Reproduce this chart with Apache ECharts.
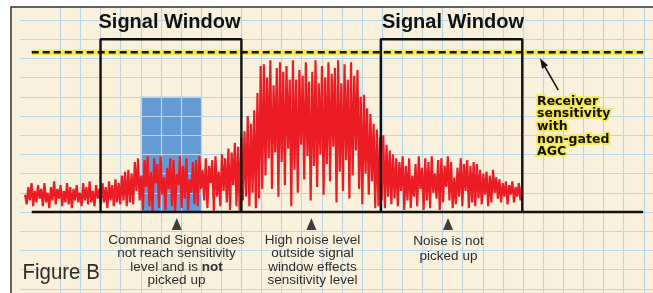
<!DOCTYPE html>
<html>
<head>
<meta charset="utf-8">
<title>Figure B</title>
<script src="https://cdn.jsdelivr.net/npm/echarts@6/dist/echarts.min.js"></script>
<style>
  html, body { margin: 0; padding: 0; background: #fff; }
  #chart { width: 653px; height: 293px; }
</style>
</head>
<body>
<div id="chart"></div>
<script>
// units are graph-paper squares, y = 0 is the baseline

// red noise trace, read left to right
var noiseStart = 0.25, noiseEnd = 24.95;
var noiseQuiet = [
  0.9, 0.4, 1.3, 0.6, 1.5, 0.3, 1.1, 0.5, 1.4, 0.7,
  1.2, 0.3, 1.5, 0.5, 1.0, 0.2, 1.3, 0.6, 1.6, 0.4,
  1.2, 0.7, 1.4, 0.3, 1.1, 0.5, 1.5, 0.4, 1.3, 0.2,
  1.2, 0.6, 1.4, 0.5, 1.0, 0.3, 1.5, 0.6, 1.3, 0.4,
  1.6, 0.5, 1.1, 0.3, 1.4, 0.7, 1.2, 0.4,
  1.5, 0.5, 1.3, 0.2, 1.6, 0.6, 1.4, 0.3, 1.7, 0.5,
  1.5, 0.4, 1.9, 0.6, 2.1, 0.3, 2.2, 0.5, 2.0
];
var noiseCommand = [
  0.4, 2.6, 1.1, 2.8, 0.6, 1.9, 0.1, 2.7, 1.3, 2.9,
  0.3, 2.1, 0.0, 2.8, 1.5, 2.5, 0.2, 2.9, 0.9, 1.8,
  0.1, 2.3, 1.2, 2.8, 0.3, 2.7, 0.0, 2.0, 1.4, 2.9,
  0.2, 2.4, 0.7, 2.8, 0.1, 1.7, 1.0, 2.6, 0.4, 2.7,
  0.3, 2.9, 1.2, 2.2, 0.6, 2.8, 0.2, 2.4, 1.5, 2.7,
  0.0, 2.9, 0.8, 2.1, 0.3, 3.0, 1.1, 2.8, 0.5, 3.3,
  0.1, 3.1, 1.4, 3.6, 0.3, 3.4, 0.0, 3.9, 0.6
];
var noiseRise = [4.2, 0.8, 5.0, 0.3, 4.6, 1.0, 5.3, 0.2, 6.2, 0.7, 7.6, 1.2];
var noiseHigh = [
  7.7, 1.9, 7.0, 2.8, 7.9, 1.2, 6.6, 3.1, 7.5, 0.8,
  7.8, 2.6, 7.3, 1.4, 7.6, 3.3, 6.9, 0.3, 7.9, 2.2,
  6.9, 1.0, 7.4, 3.5, 7.1, 1.7, 7.8, 2.9, 6.8, 0.6,
  7.3, 2.4, 7.9, 1.3, 6.7, 3.0, 7.6, 0.9, 7.0, 2.5,
  7.8, 1.6, 7.2, 3.4, 7.5, 0.5, 7.9, 2.1, 6.7, 1.1,
  7.7, 2.7, 6.9, 0.7, 7.8, 1.9, 7.1, 3.2, 7.4, 1.2,
  6.0, 0.4, 6.1, 2.0, 5.4, 0.9, 5.1, 1.6, 4.6, 0.2,
  4.3
];
var noiseTail = [
  0.3, 3.9, 0.6, 4.0, 0.2, 3.5, 0.8, 3.2, 0.4, 3.0, 0.7,
  2.8, 0.3, 2.6, 1.1, 2.9, 0.1, 2.4, 0.6, 2.8, 0.2,
  1.9, 0.8, 2.5, 0.3, 2.9, 1.2, 2.3, 0.1, 2.8, 0.6,
  2.6, 0.2, 2.9, 1.0, 2.0, 0.7, 2.7, 0.1, 2.8, 0.5,
  2.4, 1.3, 2.9, 0.6, 2.6, 0.2, 1.8, 0.4, 2.3, 0.8,
  2.8, 0.3, 2.5, 1.1, 2.7, 0.2, 2.4, 0.5, 2.6, 0.3,
  2.5, 0.7,
  2.2, 0.4, 2.0, 0.9, 2.1, 0.3, 1.9, 0.5, 2.2, 1.0, 1.8, 0.7,
  1.7, 0.5, 1.5, 0.8, 1.6, 0.4, 1.4, 0.9, 1.6, 0.5, 1.3, 0.8, 1.5, 0.6, 1.4
];

var signalWindows = [[4, 11], [17.93, 24.96]];
var windowTop = 9;
var sensitivityLevel = 8.32;
var axisSpan = [0.58, 30.97];
var commandBlock = [[6, 9, 6]];   // x from, x to, height
var pointers = [7.79, 14.48, 21.27];

var noise = noiseQuiet.concat(noiseCommand, noiseRise, noiseHigh, noiseTail);
var noiseStep = (noiseEnd - noiseStart) / (noise.length - 1);
var noisePoints = noise.map(function (v, i) { return [noiseStart + i * noiseStep, v]; });

// pixel size of one square and where square (0, 10) sits
var cell = 20.12, row = 19.2, left0 = 20.06, top0 = 20;
var gridColor = '#B9D6E8';
var ink = '#111';
var textInk = '#2d2d2d';
var textFont = '"Liberation Sans", Arial, sans-serif';

var chart = echarts.init(document.getElementById('chart'));

function paperAxis(extra, lines) {
  var a = {
    type: 'value',
    interval: 1,
    axisLine: { show: false },
    axisTick: { show: false },
    axisLabel: { show: false },
    splitLine: { show: lines, lineStyle: { color: gridColor, width: 1.2 } }
  };
  for (var k in extra) a[k] = extra[k];
  return a;
}

var series = [];

series.push({
  type: 'custom',
  z: -1,
  silent: true,
  data: commandBlock,
  encode: { x: [0, 1], y: 2 },
  renderItem: function (params, api) {
    var p0 = api.coord([api.value(0), api.value(2)]);
    var p1 = api.coord([api.value(1), 0]);
    return {
      type: 'rect',
      shape: { x: p0[0], y: p0[1], width: p1[0] - p0[0], height: p1[1] - p0[1] },
      style: { fill: '#659BD5' }
    };
  }
});

series.push({
  type: 'line',
  z: 3,
  showSymbol: false,
  silent: true,
  data: noisePoints,
  lineStyle: { color: '#EC1C24', width: 2.2 }
});

var levelLine = [[axisSpan[0], sensitivityLevel], [axisSpan[1], sensitivityLevel]];
series.push({
  type: 'line', z: 4, showSymbol: false, silent: true,
  data: levelLine,
  lineStyle: { color: '#F5E84A', width: 5.5 }
});
series.push({
  type: 'line', z: 5, showSymbol: false, silent: true,
  data: levelLine,
  lineStyle: { color: ink, width: 2.4, type: [7, 4] }
});

series.push({
  type: 'line', z: 5, showSymbol: false, silent: true,
  data: [[axisSpan[0], 0], [axisSpan[1], 0]],
  lineStyle: { color: ink, width: 2.5 }
});

signalWindows.forEach(function (w) {
  series.push({
    type: 'line', z: 5, showSymbol: false, silent: true,
    data: [[w[0], 0], [w[0], windowTop], [w[1], windowTop], [w[1], 0]],
    lineStyle: { color: ink, width: 2.4 }
  });
});

series.push({
  type: 'scatter', z: 5, silent: true,
  symbol: 'triangle',
  symbolSize: [10, 12],
  data: pointers.map(function (x) { return [x, -0.63]; }),
  itemStyle: { color: ink }
});

function note(x, y, text, align, extra) {
  var st = {
    text: text,
    fontFamily: textFont,
    fontSize: 13.5,
    lineHeight: 13.6,
    fill: textInk,
    align: align || 'center',
    verticalAlign: 'top'
  };
  for (var k in extra) st[k] = extra[k];
  return { type: 'text', x: x, y: y, z: 60, silent: true, style: st };
}

var receiverText = 'Receiver\nsensitivity\nwith\nnon-gated\nAGC';
var receiverStyle = function (halo) {
  var st = {
    text: receiverText,
    fontFamily: '"DejaVu Sans", sans-serif', fontWeight: 'bold', fontSize: 12.5, lineHeight: 12.7,
    fill: ink, align: 'left', verticalAlign: 'top'
  };
  if (halo) { st.fill = '#F5E84A'; st.stroke = '#F5E84A'; st.lineWidth = 3.5; }
  return st;
};

// the data grid spans the whole paper; a second grid only adds the
// vertical rulings, which stop short of the paper's left margin
var paperTop = top0 - row, paperHeight = 16 * row;
var option = {
  animation: false,
  backgroundColor: '#FAF1DD',
  grid: [
    { left: left0, top: paperTop, width: 32 * cell, height: paperHeight, containLabel: false, outerBoundsMode: 'none' },
    { left: left0 + 2 * cell, top: paperTop, width: 30 * cell, height: paperHeight, containLabel: false, outerBoundsMode: 'none' }
  ],
  xAxis: [
    paperAxis({ gridIndex: 0, min: 0, max: 32 }, false),
    paperAxis({ gridIndex: 1, min: 2, max: 32 }, true)
  ],
  yAxis: [
    paperAxis({ gridIndex: 0, min: -5, max: 11 }, true),
    paperAxis({ gridIndex: 1, min: -5, max: 11 }, false)
  ],
  series: series,
  graphic: [
    { type: 'rect', z: 50, silent: true, shape: { x: 0, y: 0, width: 653, height: 6.5 }, style: { fill: '#fff' } },
    { type: 'rect', z: 50, silent: true, shape: { x: 0, y: 0, width: 10.5, height: 293 }, style: { fill: '#fff' } },
    { type: 'polyline', z: 51, silent: true, shape: { points: [[11, 293], [11, 7], [653, 7]] },
      style: { stroke: '#333', lineWidth: 1.5, fill: null } },

    { type: 'text', z: 60, x: 169.5, y: 22.5, silent: true,
      style: { text: 'Signal Window', fontFamily: textFont, fontWeight: 'bold', fontSize: 20,
               fill: ink, align: 'center', verticalAlign: 'middle' } },
    { type: 'text', z: 60, x: 453, y: 22.5, silent: true,
      style: { text: 'Signal Window', fontFamily: textFont, fontWeight: 'bold', fontSize: 20,
               fill: ink, align: 'center', verticalAlign: 'middle' } },

    note(176.5, 233, 'Command Signal does\nnot reach sensitivity\nlevel and is {b|not}\npicked up', 'center', {
      rich: { b: { fontFamily: textFont, fontSize: 13.5, fontWeight: 'bold', lineHeight: 13.6, fill: textInk } }
    }),
    note(312.5, 233, 'High noise level\noutside signal\nwindow effects\nsensitivity level'),
    note(448.5, 234, 'Noise is not\npicked up', 'center', { lineHeight: 14.8 }),
    { type: 'text', z: 60, x: 22.5, y: 273, scaleX: 0.93, silent: true,
      style: { text: 'Figure B', fontFamily: textFont, fontSize: 22, fill: textInk,
               align: 'left', verticalAlign: 'middle' } },

    { type: 'text', z: 60, x: 537, y: 95, silent: true, style: receiverStyle(true) },
    { type: 'text', z: 61, x: 537, y: 95, silent: true, style: receiverStyle(false) },
    { type: 'line', z: 60, silent: true, shape: { x1: 558.3, y1: 90, x2: 543, y2: 63.5 },
      style: { stroke: ink, lineWidth: 1.5 } },
    { type: 'polygon', z: 60, silent: true, shape: { points: [[540, 58.3], [548, 65.3], [542, 68.8]] },
      style: { fill: ink } }
  ]
};

chart.setOption(option);
</script>
</body>
</html>
